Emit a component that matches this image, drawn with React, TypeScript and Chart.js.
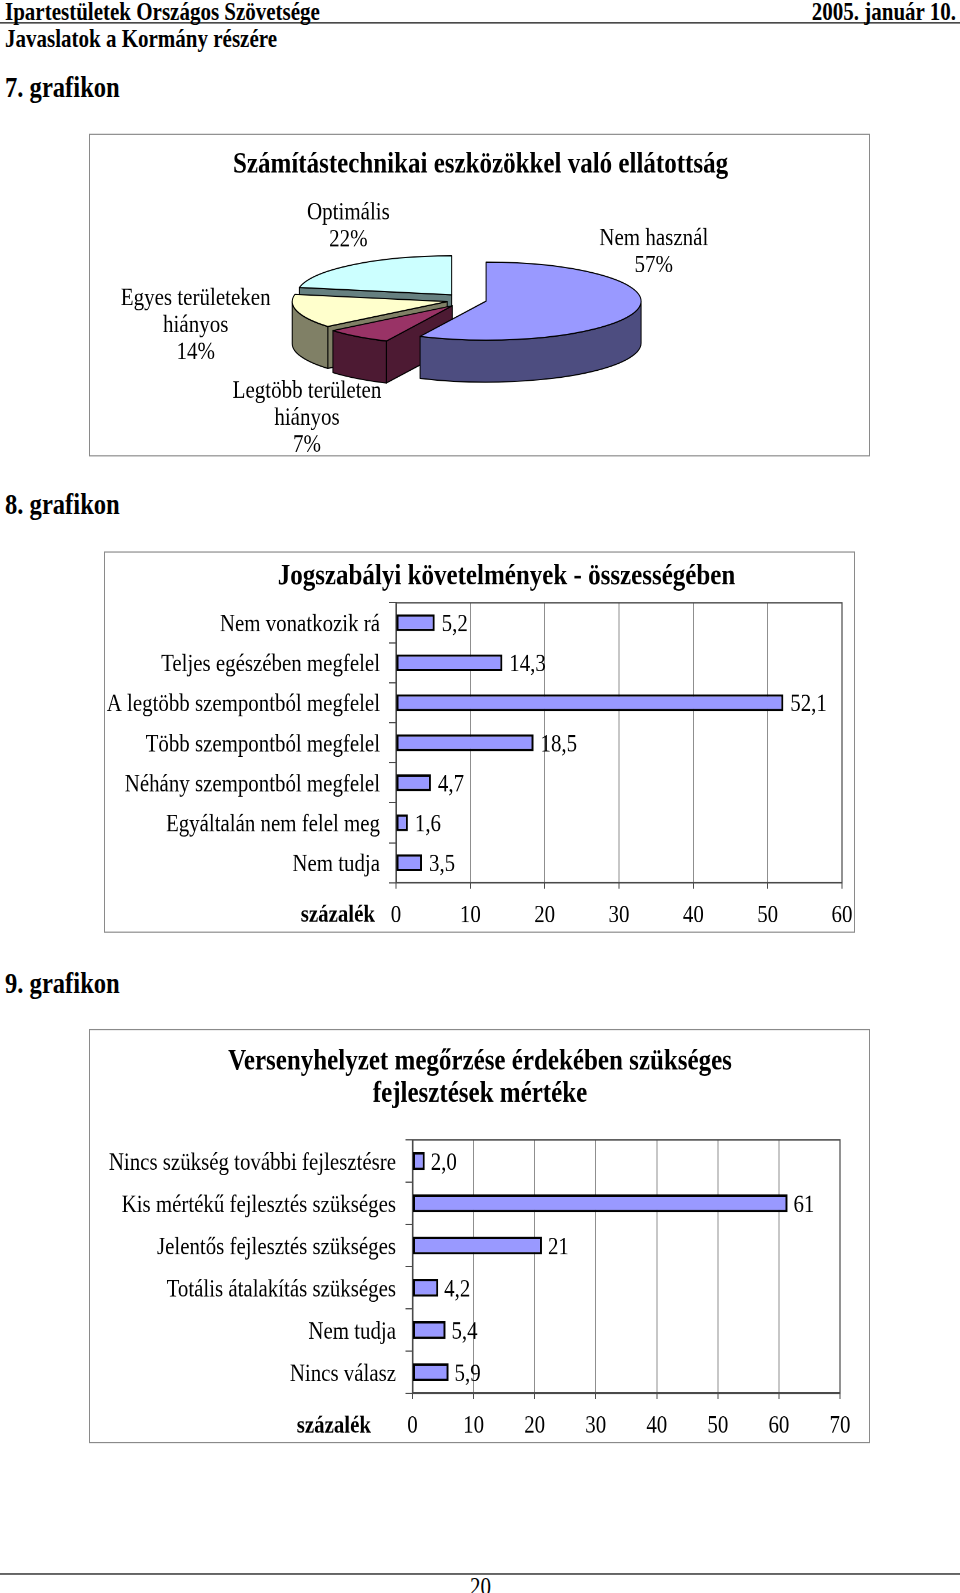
import React, { useEffect, useRef } from "react";
import { Chart, registerables } from "chart.js";
Chart.register(...registerables);

// The source page is a PDF rendered with a taller vertical scale than horizontal.
const S = 1.1733;
const u = (v: number) => v / S;
const FONT = '"Liberation Serif", "Times New Roman", Times, serif';
Chart.defaults.font.family = FONT;
Chart.defaults.color = "#000";

// ---------------- data ----------------
const pieTitle = "Számítástechnikai eszközökkel való ellátottság";
const pieCategories = [["Nem használ"], ["Legtöbb területen", "hiányos"], ["Egyes területeken", "hiányos"], ["Optimális"]];
const piePercents = [57, 7, 14, 22];

const chart8Title = ["Jogszabályi követelmények - összességében"];
const chart8Categories = [
  "Nem vonatkozik rá",
  "Teljes egészében megfelel",
  "A legtöbb szempontból megfelel",
  "Több szempontból megfelel",
  "Néhány szempontból megfelel",
  "Egyáltalán nem felel meg",
  "Nem tudja",
];
const chart8Values = [5.2, 14.3, 52.1, 18.5, 4.7, 1.6, 3.5];
const chart8ValueLabels = ["5,2", "14,3", "52,1", "18,5", "4,7", "1,6", "3,5"];
const chart8Ticks = [0, 10, 20, 30, 40, 50, 60];

const chart9Title = ["Versenyhelyzet megőrzése érdekében szükséges", "fejlesztések mértéke"];
const chart9Categories = [
  "Nincs szükség további fejlesztésre",
  "Kis mértékű fejlesztés szükséges",
  "Jelentős fejlesztés szükséges",
  "Totális átalakítás szükséges",
  "Nem tudja",
  "Nincs válasz",
];
const chart9Values = [2.0, 61.4, 21.2, 4.2, 5.4, 5.9];
const chart9ValueLabels = ["2,0", "61", "21", "4,2", "5,4", "5,9"];
const chart9Ticks = [0, 10, 20, 30, 40, 50, 60, 70];

const unitLabel = "százalék";

// ---------------- styles / layout ----------------
const GRID = "#8f8f8f";
const AXIS = "#4a4a4a";
const BOXBORDER = "#8a8a8a";
const FS = 20.9;
const TB = 1.8; // canvas "middle" baseline sits a little high: shift text down (u px)
const EXTRA = 40; // canvas extends past the box on the right so edge tick labels never squeeze the plot

const PIE = {
  box: { x0: 89, x1: 870, y0: 134, y1: 456 },
  titleLeft: 233,
  titleCapY: 164,
  cx: 469.5,
  cy: 300.4,
  R: 155,
  ry: 39,
  depth: 42,
  offsets: [17, 28, 23, 28],
  colors: ["#9999FF", "#993366", "#FFFFCC", "#CCFFFF"],
  labelPos: [
    [653.8, 237],
    [307, 389.5],
    [195.7, 297],
    [348.4, 211],
  ],
  labelGap: 26.9,
  labelSize: 21,
};

const C8 = {
  box: { x0: 104, x1: 855, y0: 552, y1: 933 },
  plot: { x0: 396, x1: 842, y0: 603.3, y1: 883.3 },
  titleCX: 506.5,
  titleCapY: [575],
  tickCapY: 914,
  labelRight: 380,
  unitRight: 375,
  valueGap: 7,
};
const C9 = {
  box: { x0: 89, x1: 870, y0: 1029, y1: 1443 },
  plot: { x0: 412.5, x1: 840, y0: 1140, y1: 1393.3 },
  titleCX: 480,
  titleCapY: [1060, 1092],
  tickCapY: 1424,
  labelRight: 396,
  unitRight: 371,
  valueGap: 6,
};

function darken(hex: string) {
  const n = parseInt(hex.slice(1), 16);
  const r = Math.round(((n >> 16) & 255) / 2);
  const g = Math.round(((n >> 8) & 255) / 2);
  const b = Math.round((n & 255) / 2);
  return `rgb(${r},${g},${b})`;
}

function maxSin(a0: number, a1: number) {
  const h = Math.PI / 2;
  if (a0 <= h && a1 >= h) return 1;
  return Math.max(Math.sin(a0), Math.sin(a1));
}

// Chart title drawn as canvas text (Chart.js title box cannot be offset sideways)
const boxTitle = {
  id: "boxTitle",
  afterDraw(chart: any, _args: any, opts: any) {
    const ctx = chart.ctx as CanvasRenderingContext2D;
    ctx.save();
    ctx.fillStyle = "#000";
    ctx.font = `bold ${opts.size}px ${FONT}`;
    ctx.textAlign = opts.align;
    ctx.textBaseline = "middle";
    opts.lines.forEach((t: string, i: number) => ctx.fillText(t, opts.x, opts.y + i * opts.gap));
    ctx.restore();
  },
};

const pie3d = {
  id: "pie3d",
  beforeDatasetsDraw(chart: any, _args: any, opts: any) {
    const ctx = chart.ctx as CanvasRenderingContext2D;
    const meta = chart.getDatasetMeta(0);
    const k = opts.tilt;
    const D = opts.depth;
    const items = meta.data.map((arc: any, i: number) => {
      const p = arc.getProps(["x", "y", "startAngle", "endAngle", "outerRadius"], true);
      const off = arc.options.offset || 0;
      const mid = (p.startAngle + p.endAngle) / 2;
      return {
        i,
        cx: p.x + Math.cos(mid) * off,
        cy: p.y + Math.sin(mid) * off * k,
        R: p.outerRadius,
        a0: p.startAngle,
        a1: p.endAngle,
        top: arc.options.backgroundColor,
        side: darken(arc.options.backgroundColor),
      };
    });
    items.sort((a: any, b: any) => maxSin(a.a0, a.a1) - maxSin(b.a0, b.a1));
    ctx.save();
    ctx.lineWidth = 1;
    ctx.strokeStyle = "#000";
    ctx.lineJoin = "round";
    for (const s of items) {
      const { cx, cy, R, a0, a1 } = s;
      const ry = R * k;
      const face = (a: number) => {
        const px = cx + R * Math.cos(a);
        const py = cy + ry * Math.sin(a);
        ctx.beginPath();
        ctx.moveTo(cx, cy);
        ctx.lineTo(px, py);
        ctx.lineTo(px, py + D);
        ctx.lineTo(cx, cy + D);
        ctx.closePath();
        ctx.fillStyle = s.side;
        ctx.fill();
        ctx.stroke();
      };
      if (Math.cos(a0) < -1e-6) face(a0);
      if (Math.cos(a1) > 1e-6) face(a1);
      const ws = Math.max(a0, 0);
      const we = Math.min(a1, Math.PI);
      if (we > ws) {
        ctx.beginPath();
        ctx.ellipse(cx, cy, R, ry, 0, ws, we, false);
        ctx.lineTo(cx + R * Math.cos(we), cy + ry * Math.sin(we) + D);
        ctx.ellipse(cx, cy + D, R, ry, 0, we, ws, true);
        ctx.closePath();
        ctx.fillStyle = s.side;
        ctx.fill();
        ctx.stroke();
      }
      ctx.beginPath();
      ctx.moveTo(cx, cy);
      ctx.ellipse(cx, cy, R, ry, 0, a0, a1, false);
      ctx.closePath();
      ctx.fillStyle = s.top;
      ctx.fill();
      ctx.stroke();
    }
    // data labels
    ctx.fillStyle = "#000";
    ctx.font = `${opts.labelSize}px ${FONT}`;
    ctx.textAlign = "center";
    ctx.textBaseline = "middle";
    const labels = chart.data.labels;
    const values = chart.data.datasets[0].data;
    labels.forEach((lab: string[], i: number) => {
      const lines = [...lab, `${values[i]}%`];
      const [lx, ly] = opts.labelPos[i];
      lines.forEach((t: string, j: number) => ctx.fillText(t, lx, ly + j * opts.labelGap));
    });
    ctx.restore();
    return false;
  },
};

const barExtras = {
  id: "barExtras",
  beforeDatasetsDraw(chart: any) {
    const { ctx, chartArea: a } = chart;
    ctx.save();
    ctx.strokeStyle = AXIS;
    ctx.lineWidth = 1.2;
    ctx.strokeRect(a.left, a.top, a.right - a.left, a.bottom - a.top);
    ctx.restore();
  },
  afterDatasetsDraw(chart: any, _args: any, opts: any) {
    const ctx = chart.ctx as CanvasRenderingContext2D;
    const meta = chart.getDatasetMeta(0);
    ctx.save();
    ctx.fillStyle = "#000";
    ctx.font = `${FS}px ${FONT}`;
    ctx.textBaseline = "middle";
    ctx.textAlign = "left";
    meta.data.forEach((bar: any, i: number) => {
      const p = bar.getProps(["x", "y"], true);
      ctx.fillText(opts.labels[i], p.x + opts.gap, p.y + TB);
    });
    ctx.font = `bold ${FS}px ${FONT}`;
    ctx.textAlign = "right";
    ctx.fillText(opts.unit, opts.unitX, opts.unitY);
    ctx.restore();
  },
};

function Box({ b }: { b: { x0: number; x1: number; y0: number; y1: number } }) {
  return (
    <div
      style={{
        position: "absolute",
        left: b.x0,
        top: u(b.y0),
        width: b.x1 - b.x0,
        height: u(b.y1 - b.y0),
        border: `1px solid ${BOXBORDER}`,
        boxSizing: "border-box",
      }}
    />
  );
}

function PieChart() {
  const ref = useRef<HTMLCanvasElement>(null);
  const b = PIE.box;
  const W = b.x1 - b.x0;
  const H = Math.round(u(b.y1 - b.y0));
  useEffect(() => {
    const cxC = PIE.cx - b.x0;
    const cyC = u(PIE.cy - b.y0);
    const top = Math.max(0, 2 * cyC - H);
    const bottom = Math.max(0, H - 2 * cyC);
    const chart = new Chart(ref.current as HTMLCanvasElement, {
      type: "pie",
      data: {
        labels: pieCategories as any,
        datasets: [
          {
            data: piePercents,
            backgroundColor: PIE.colors,
            offset: PIE.offsets,
            radius: PIE.R,
            borderWidth: 0,
            clip: false,
          } as any,
        ],
      },
      options: {
        responsive: false,
        animation: false,
        devicePixelRatio: 2,
        layout: { padding: { left: 0, right: W - 2 * cxC, top, bottom } },
        plugins: {
          legend: { display: false },
          tooltip: { enabled: false },
          title: { display: false },
          boxTitle: {
            lines: [pieTitle],
            x: PIE.titleLeft - b.x0,
            y: u(PIE.titleCapY - b.y0) + 1,
            gap: 30,
            size: 25,
            align: "left",
          },
          pie3d: {
            tilt: u(PIE.ry) / PIE.R,
            depth: u(PIE.depth),
            labelPos: PIE.labelPos.map(([x, y]) => [x - b.x0, u(y - b.y0) + TB]),
            labelGap: u(PIE.labelGap),
            labelSize: PIE.labelSize,
          },
        } as any,
      },
      plugins: [pie3d as any, boxTitle as any],
    });
    return () => chart.destroy();
  }, []);
  return (
    <>
      <Box b={b} />
      <canvas ref={ref} width={W} height={H} style={{ position: "absolute", left: b.x0, top: u(b.y0) }} />
    </>
  );
}

function BarChart({ cfg, title, categories, values, valueLabels, ticks }: any) {
  const ref = useRef<HTMLCanvasElement>(null);
  const b = cfg.box;
  const W = b.x1 - b.x0 + EXTRA;
  const H = Math.round(u(b.y1 - b.y0));
  useEffect(() => {
    const plotL = cfg.plot.x0 - b.x0;
    const plotR = cfg.plot.x1 - b.x0;
    const plotT = u(cfg.plot.y0 - b.y0);
    const plotB = u(cfg.plot.y1 - b.y0);
    const xH = H - plotB;
    const XTL = 5;
    const YTL = 7;
    const tickMid = u(cfg.tickCapY - b.y0) + TB;
    const tickPad = tickMid - plotB - XTL - 0.6 * FS;
    const yPad = plotL - YTL - (cfg.labelRight - b.x0);
    const titleGap = title.length > 1 ? u(cfg.titleCapY[1] - cfg.titleCapY[0]) : 0;
    const chart = new Chart(ref.current as HTMLCanvasElement, {
      type: "bar",
      data: {
        labels: categories,
        datasets: [
          {
            data: values,
            backgroundColor: "#9999FF",
            borderColor: "#000",
            borderWidth: 2,
            borderSkipped: false,
            barPercentage: 0.42,
            categoryPercentage: 1,
          },
        ],
      },
      options: {
        indexAxis: "y",
        responsive: false,
        animation: false,
        devicePixelRatio: 2,
        layout: { padding: { left: 0, right: W - plotR, top: plotT, bottom: 0 } },
        scales: {
          x: {
            min: ticks[0],
            max: ticks[ticks.length - 1],
            ticks: { stepSize: ticks[1] - ticks[0], padding: tickPad, font: { size: FS }, color: "#000", maxRotation: 0, autoSkip: false },
            grid: { color: GRID, lineWidth: 1, tickLength: XTL, tickColor: AXIS },
            border: { color: AXIS, width: 1.5 },
            afterFit: (s: any) => {
              s.height = xH;
            },
          },
          y: {
            ticks: { padding: yPad, font: { size: FS }, color: "#000", autoSkip: false, labelOffset: TB },
            grid: { drawOnChartArea: false, tickLength: YTL, color: AXIS, offset: true },
            border: { color: AXIS, width: 1.5 },
            afterFit: (s: any) => {
              s.width = plotL;
            },
          },
        },
        plugins: {
          legend: { display: false },
          tooltip: { enabled: false },
          title: { display: false },
          boxTitle: {
            lines: title,
            x: cfg.titleCX - b.x0,
            y: u(cfg.titleCapY[0] - b.y0) + TB,
            gap: titleGap,
            size: 25,
            align: "center",
          },
          barExtras: {
            labels: valueLabels,
            gap: cfg.valueGap,
            unit: unitLabel,
            unitX: cfg.unitRight - b.x0,
            unitY: tickMid,
          },
        } as any,
      } as any,
      plugins: [barExtras as any, boxTitle as any],
    });
    return () => chart.destroy();
  }, []);
  return (
    <>
      <Box b={b} />
      <canvas ref={ref} width={W} height={H} style={{ position: "absolute", left: b.x0, top: u(b.y0) }} />
    </>
  );
}

function T({ x, right, cx, y, size, bold, children }: any) {
  const style: any = {
    position: "absolute",
    top: u(y) - 0.5065 * size,
    fontSize: size,
    lineHeight: 1,
    fontWeight: bold ? "bold" : "normal",
    whiteSpace: "nowrap",
  };
  if (x !== undefined) style.left = x;
  if (right !== undefined) style.right = 960 - right;
  if (cx !== undefined) {
    style.left = cx;
    style.transform = "translateX(-50%)";
  }
  return <div style={style}>{children}</div>;
}

export default function App() {
  useEffect(() => {
    document.body.style.margin = "0";
    document.body.style.overflow = "hidden";
  }, []);
  return (
    <div
      style={{
        position: "absolute",
        left: 0,
        top: 0,
        width: 960,
        height: u(1593),
        transform: `scaleY(${S})`,
        transformOrigin: "0 0",
        fontFamily: FONT,
        color: "#000",
        background: "#fff",
        overflow: "hidden",
      }}
    >
      <T x={5} y={12.8} size={21} bold>
        Ipartestületek Országos Szövetsége
      </T>
      <T right={956} y={12.8} size={21} bold>
        2005. január 10.
      </T>
      <div style={{ position: "absolute", left: 0, top: u(22.4), width: 960, height: u(1.6), background: "#000" }} />
      <T x={5} y={40} size={21} bold>
        Javaslatok a Kormány részére
      </T>
      <T x={5} y={88} size={24.6} bold>
        7. grafikon
      </T>
      <PieChart />
      <T x={5} y={505.5} size={24.6} bold>
        8. grafikon
      </T>
      <BarChart
        cfg={C8}
        title={chart8Title}
        categories={chart8Categories}
        values={chart8Values}
        valueLabels={chart8ValueLabels}
        ticks={chart8Ticks}
      />
      <T x={5} y={984} size={24.6} bold>
        9. grafikon
      </T>
      <BarChart
        cfg={C9}
        title={chart9Title}
        categories={chart9Categories}
        values={chart9Values}
        valueLabels={chart9ValueLabels}
        ticks={chart9Ticks}
      />
      <div style={{ position: "absolute", left: 0, top: u(1573), width: 960, height: u(1.6), background: "#000" }} />
      <T cx={480.5} y={1586.5} size={21}>
        20
      </T>
    </div>
  );
}
